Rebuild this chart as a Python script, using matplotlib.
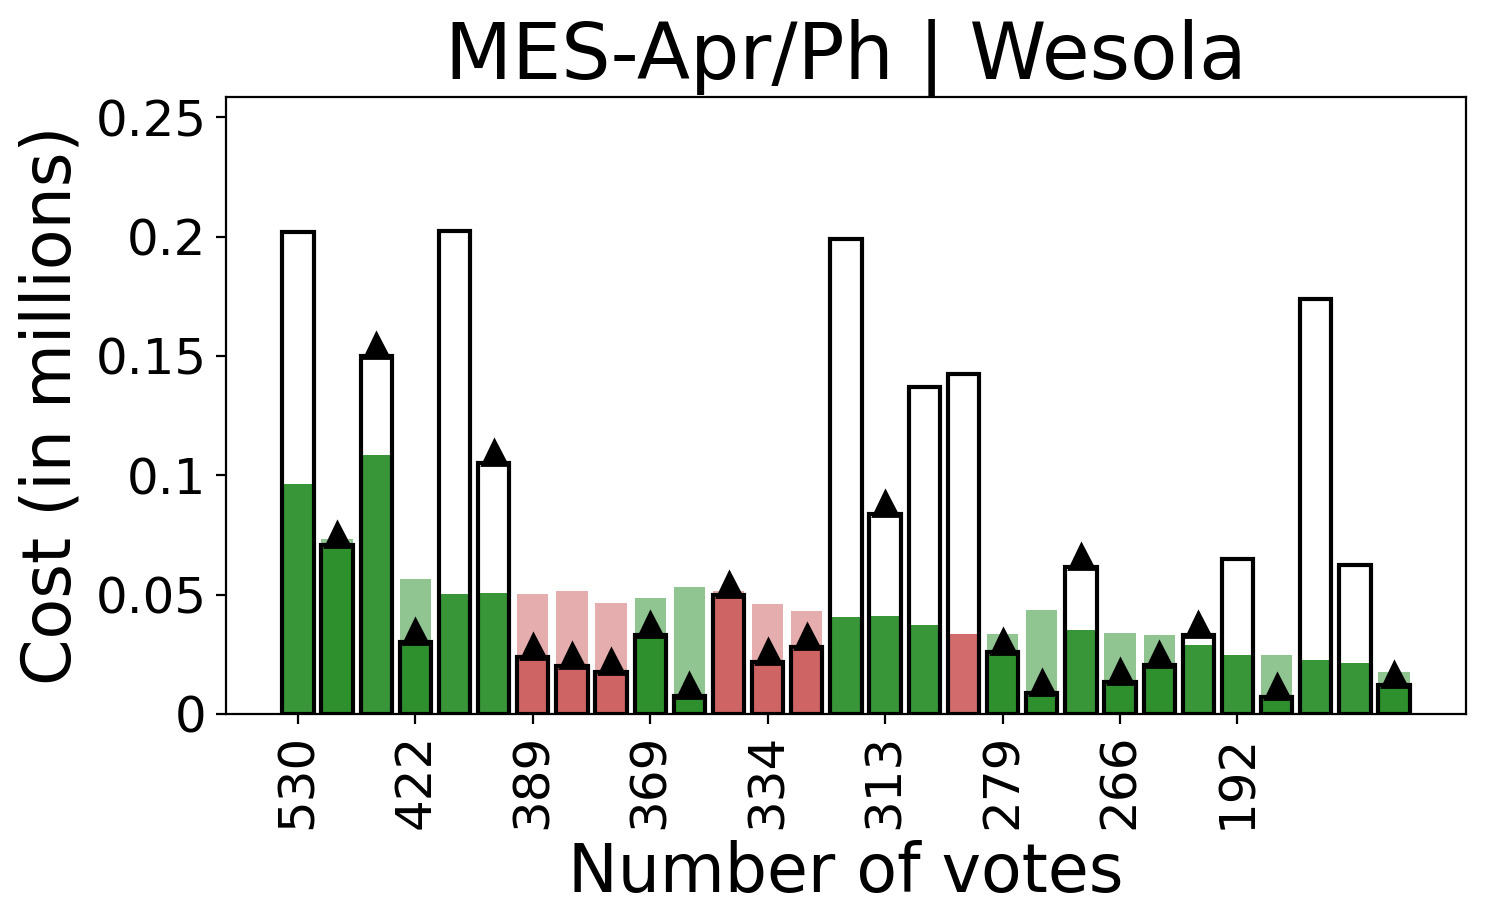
import numpy as np
import matplotlib
matplotlib.use('Agg')
import matplotlib.pyplot as plt

# Height of the black-edged bar for each project (in millions).
cost = [0.2018, 0.0708, 0.150, 0.0302, 0.2023, 0.105, 0.0238, 0.0200, 0.0176, 0.0330,
        0.0075, 0.0498, 0.0218, 0.0280, 0.1989, 0.0838, 0.1370, 0.1424, 0.0260, 0.0088,
        0.0616, 0.0134, 0.0205, 0.0331, 0.0649, 0.0071, 0.1738, 0.0624, 0.0121]

# Height of the coloured (second) bar for each project.
share = [0.0963, 0.0733, 0.1085, 0.0565, 0.0503, 0.0507, 0.0503, 0.0515, 0.0465, 0.0486,
         0.0532, 0.0515, 0.0460, 0.0430, 0.0406, 0.0410, 0.0373, 0.0335, 0.0335, 0.0436,
         0.0352, 0.0340, 0.0331, 0.0289, 0.0247, 0.0247, 0.0226, 0.0214, 0.0176]

# 'g' = green, 'r' = red
colour_code = ['g', 'g', 'g', 'g', 'g', 'g', 'r', 'r', 'r', 'g',
               'g', 'r', 'r', 'r', 'g', 'g', 'g', 'r', 'g', 'g',
               'g', 'g', 'g', 'g', 'g', 'g', 'g', 'g', 'g']

# Triangle marker on top of the edged bar.
marked = [0, 1, 1, 1, 0, 1, 1, 1, 1, 1,
          1, 1, 1, 1, 0, 1, 0, 0, 1, 1,
          1, 1, 1, 1, 0, 1, 0, 0, 1]

tick_pos    = [0, 3, 6, 9, 12, 15, 18, 21, 24]
tick_labels = ['530', '422', '389', '369', '334', '313', '279', '266', '192']

colours = {'g': 'forestgreen', 'r': 'indianred'}

fig, ax = plt.subplots(figsize=(7.43, 4.62), dpi=200)
fig.subplots_adjust(left=0.152, right=0.9866, top=0.895, bottom=0.2273)

x = np.arange(len(cost))
w = 0.8

for ii in range(len(cost)):

    c = colours[colour_code[ii]]

    if share[ii] > cost[ii]:
        # light bar behind, coloured edged bar in front
        ax.bar(x[ii], share[ii], w, color=c, alpha=0.5, linewidth=0, zorder=1)
        ax.bar(x[ii], cost[ii], w, color=c, alpha=0.9, linewidth=0, zorder=2)
    else:
        # white edged bar, coloured bar inside
        ax.bar(x[ii], cost[ii], w, color='white', linewidth=0, zorder=1)
        ax.bar(x[ii], share[ii], w, color=c, alpha=0.9, linewidth=0, zorder=2)

    ax.bar(x[ii], cost[ii], w, fill=False, edgecolor='black', linewidth=1.5, zorder=3)

    if marked[ii]:
        ax.plot(x[ii], cost[ii] + 0.0046, marker='^', color='black', markersize=9, zorder=4)

ax.set_ylim(0, 0.2585)
ax.set_yticks([0, 0.05, 0.1, 0.15, 0.2, 0.25])
ax.set_yticklabels(['0', '0.05', '0.1', '0.15', '0.2', '0.25'])
ax.set_xticks(tick_pos)
ax.set_xticklabels(tick_labels, rotation=90)
ax.tick_params(labelsize=18)

ax.set_xlabel('Number of votes', fontsize=24)
ax.set_ylabel('Cost (in millions)', fontsize=24)
ax.set_title('MES-Apr/Ph | Wesola', fontsize=28)

plt.savefig('out.png', dpi=200)
plt.close()
